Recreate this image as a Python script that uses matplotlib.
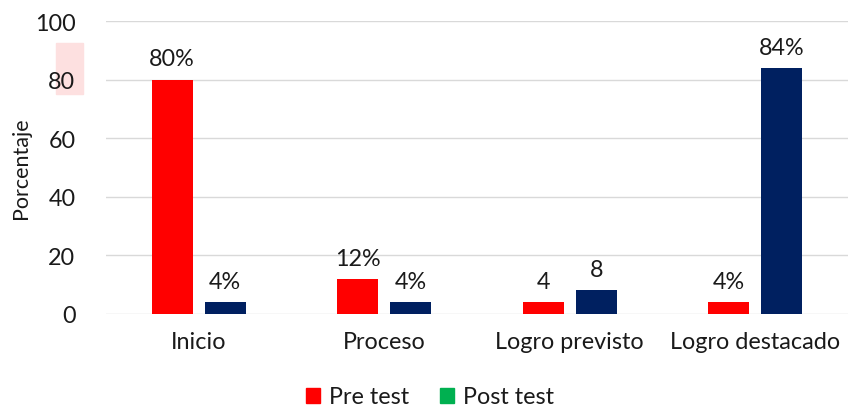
import matplotlib
matplotlib.use("Agg")
import matplotlib.pyplot as plt
import matplotlib.patches as mpatches
import numpy as np

categories = ["Inicio", "Proceso", "Logro previsto", "Logro destacado"]
pre_test = [80, 12, 4, 4]
post_test = [4, 4, 8, 84]
pre_labels = ["80%", "12%", "4", "4%"]
post_labels = ["4%", "4%", "8", "84%"]
yticks = [0, 20, 40, 60, 80, 100]

plt.rcParams['font.family'] = ['Lato', 'DejaVu Sans']
fs = 16.8
txt = '#1a1a1a'

fig = plt.figure(figsize=(8.48, 4.10), dpi=100)
ax = fig.add_axes([0.125, 0.232, 0.875, 0.714])
ax.patch.set_visible(False)

x = np.arange(len(categories))
w = 0.22
off = 0.143
ax.bar(x - off, pre_test, w, color='#ff0000', zorder=3)
ax.bar(x + off, post_test, w, color='#002060', zorder=3)

for xi, v, l in zip(x - off, pre_test, pre_labels):
    ax.text(xi, v + 3.5, l, ha='center', va='bottom', fontsize=fs, color=txt)
for xi, v, l in zip(x + off, post_test, post_labels):
    ax.text(xi, v + 3.5, l, ha='center', va='bottom', fontsize=fs, color=txt)

ax.set_xlim(-0.5, len(categories) - 0.5)
ax.set_ylim(0, 100)
ax.set_yticks(yticks)
ax.set_xticks(x)
ax.set_xticklabels(categories, fontsize=fs, color=txt)
ax.tick_params(axis='y', labelsize=fs, labelcolor=txt, length=0, pad=22)
ax.tick_params(axis='x', length=0, pad=12)
ax.grid(axis='y', color='#d9d9d9', linewidth=1, zorder=0)
for s in ax.spines.values():
    s.set_visible(False)

ax.set_ylabel("Porcentaje", fontsize=15.5, color=txt)
ax.yaxis.set_label_coords(-0.101, 0.5)

# pink highlight behind the 80 tick label
ax.add_patch(mpatches.Rectangle((56 / 848, 1 - 95 / 410), 27 / 848, 51 / 410,
                                transform=fig.transFigure, color='#fde0e0',
                                zorder=-1, clip_on=False))

handles = [mpatches.Patch(color='#ff0000', label='Pre test'),
           mpatches.Patch(color='#00b050', label='Post test')]
fig.legend(handles=handles, loc='center', bbox_to_anchor=(430 / 848, 1 - 398 / 410), ncol=2,
           frameon=False, fontsize=fs, handlelength=0.6, handleheight=0.6,
           handletextpad=0.4, columnspacing=1.3, labelcolor=txt)

fig.savefig("out.png", dpi=100)
